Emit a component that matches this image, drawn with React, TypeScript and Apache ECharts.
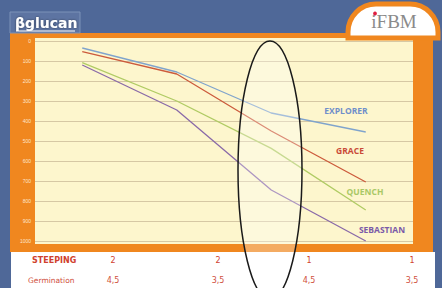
import React, { useEffect, useRef } from "react";
import * as echarts from "echarts";

const categories = ["S2 G4,5", "S2 G3,5", "S1 G4,5", "S1 G3,5"];
const seriesNames = ["EXPLORER", "GRACE", "QUENCH", "SEBASTIAN"];
const explorer = [35, 155, 360, 455];
const grace = [53, 165, 450, 705];
const quench = [108, 300, 537, 845];
const sebastian = [120, 345, 745, 1000];
const steeping = ["2", "2", "1", "1"];
const germination = ["4,5", "3,5", "4,5", "3,5"];
const yTicks = [0, 100, 200, 300, 400, 500, 600, 700, 800, 900, 1000];

const colors = ["#80a4cc", "#cc5b3c", "#b0cb64", "#8a6aa8"];
const labelColors = ["#6f8fca", "#c94a38", "#a9c865", "#7a5aa8"];
const labelPos = [
  [346, 110],
  [350, 150],
  [365, 191],
  [382, 229],
];
const tableX = [113, 218, 309, 412];

export default function App() {
  const ref = useRef<HTMLDivElement>(null);
  useEffect(() => {
    const chart = echarts.init(ref.current!, null, { renderer: "svg" });
    const data = [explorer, grace, quench, sebastian];
    const graphics: any[] = [
      { type: "rect", z: -10, shape: { x: 10, y: 33, width: 423, height: 219 }, style: { fill: "#f0871f" } },
      { type: "rect", z: -9, shape: { x: 35, y: 38, width: 378, height: 206 }, style: { fill: "#fdf6cd" } },
      { type: "rect", z: -10, shape: { x: 11, y: 252, width: 424, height: 36 }, style: { fill: "#ffffff" } },
      { type: "rect", z: 5, shape: { x: 10, y: 12, width: 70, height: 21 }, style: { fill: "rgba(120,140,180,0.35)", stroke: "#7d92b8", lineWidth: 1 } },
      { type: "text", z: 6, x: 15, y: 16, style: { text: "βglucan", fill: "#ffffff", font: "bold 14px 'DejaVu Sans', sans-serif", textShadowColor: "rgba(0,0,0,0.5)", textShadowBlur: 2 } },
      { type: "line", z: 6, shape: { x1: 16, y1: 31, x2: 75, y2: 31 }, style: { stroke: "#ffffff", lineWidth: 1 } },
      { type: "rect", z: 5, shape: { x: 348, y: 4, width: 90, height: 34, r: [28, 28, 0, 0] }, style: { fill: "#ffffff", stroke: "#f0871f", lineWidth: 5 } },
      { type: "text", z: 6, x: 394, y: 21, style: { text: "iFBM", fill: "#8a8a8a", font: "19px 'Liberation Serif', serif", align: "center", verticalAlign: "middle" } },
      { type: "circle", z: 7, shape: { cx: 375, cy: 13.5, r: 1.9 }, style: { fill: "#e02040" } },
      { type: "ellipse", z: 20, shape: { cx: 270, cy: 170, rx: 32, ry: 129 }, style: { fill: "rgba(255,255,255,0.3)", stroke: "#1a1a1a", lineWidth: 1.5 } },
      { type: "text", z: 6, x: 32, y: 260, style: { text: "STEEPING", fill: "#d0412e", font: "bold 8px 'DejaVu Sans', sans-serif", verticalAlign: "middle" } },
      { type: "text", z: 6, x: 28, y: 280, style: { text: "Germination", fill: "#d0503e", font: "7.5px 'DejaVu Sans', sans-serif", verticalAlign: "middle" } },
    ];
    steeping.forEach((s, i) => {
      graphics.push({ type: "text", z: 6, x: tableX[i], y: 260, style: { text: s, fill: "#d0412e", font: "8px 'DejaVu Sans', sans-serif", align: "center", verticalAlign: "middle" } });
    });
    germination.forEach((s, i) => {
      graphics.push({ type: "text", z: 6, x: tableX[i], y: 280, style: { text: s, fill: "#d0503e", font: "8px 'DejaVu Sans', sans-serif", align: "center", verticalAlign: "middle" } });
    });
    seriesNames.forEach((n, i) => {
      graphics.push({ type: "text", z: 6, x: labelPos[i][0], y: labelPos[i][1], style: { text: n, fill: labelColors[i], font: "bold 8.5px 'Open Sans', sans-serif", align: "center", verticalAlign: "middle" } });
    });
    chart.setOption({
      animation: false,
      backgroundColor: "#4f6898",
      grid: { left: 35, top: 41, width: 378, height: 200 },
      xAxis: {
        type: "category",
        data: categories,
        boundaryGap: true,
        axisLine: { show: false },
        axisTick: { show: false },
        axisLabel: { show: false },
      },
      yAxis: {
        type: "value",
        inverse: true,
        min: 0,
        max: 1000,
        interval: 100,
        axisLine: { show: false },
        axisTick: { show: false },
        axisLabel: {
          fontSize: 5,
          color: "#fde6cc",
          margin: 4,
          formatter: (v: number) => (yTicks.includes(v) ? String(v) : ""),
        },
        splitLine: { lineStyle: { color: "#d6c8a4", width: 1 } },
      },
      graphic: graphics,
      series: seriesNames.map((n, i) => ({
        name: n,
        type: "line",
        data: data[i],
        symbol: "none",
        lineStyle: { color: colors[i], width: 1.3 },
        z: 3,
      })),
    });
    return () => chart.dispose();
  }, []);
  return <div ref={ref} style={{ width: 442, height: 288, position: "absolute", left: 0, top: 0 }} />;
}
